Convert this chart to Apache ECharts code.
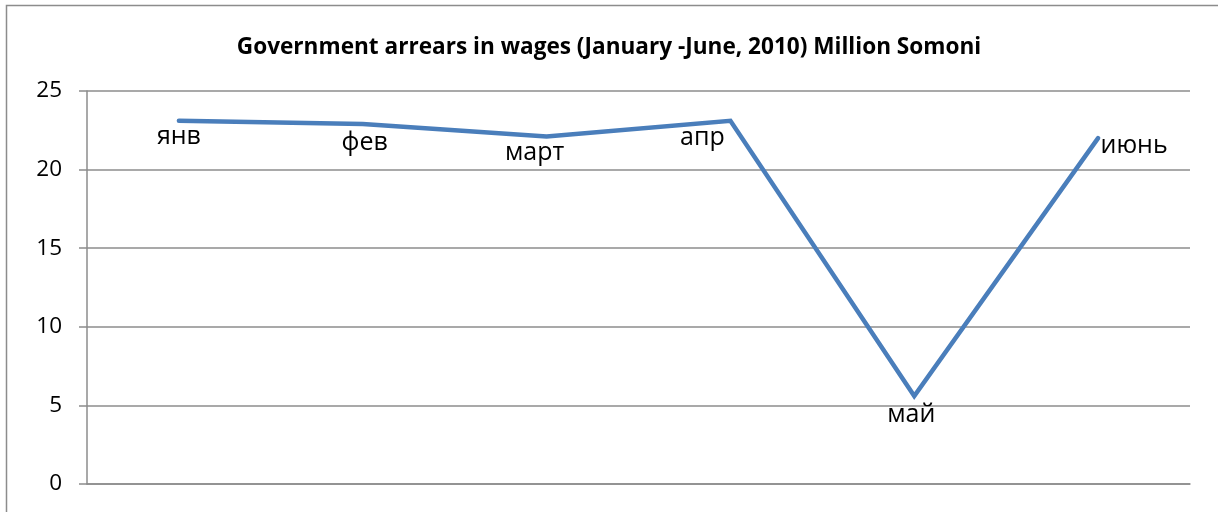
<!DOCTYPE html>
<html>
<head>
<meta charset="utf-8">
<script src="https://cdn.jsdelivr.net/npm/echarts@6/dist/echarts.min.js"></script>
<style>
html,body{margin:0;padding:0;background:#fff;}
#chart{width:1218px;height:512px;}
</style>
</head>
<body>
<div id="chart"></div>
<script>
const titleText = 'Government arrears in wages (January -June, 2010) Million Somoni';
const categories = ['янв', 'фев', 'март', 'апр', 'май', 'июнь'];
const values = [23.1, 22.9, 22.1, 23.1, 5.6, 22.0];
const yTicks = [0, 5, 10, 15, 20, 25];
const labelOffsets = [[0, 16], [2, 19], [-12, 16], [-28, 17], [-3, 19], [36, 8]];

const chart = echarts.init(document.getElementById('chart'));
const font = '"Open Sans", "Liberation Sans", sans-serif';
chart.setOption({
  animation: false,
  backgroundColor: '#fff',
  title: {
    text: titleText,
    left: 'center',
    top: 31,
    textStyle: { fontFamily: font, fontWeight: 'bold', fontSize: 22.6, color: '#000' }
  },
  graphic: [{
    type: 'rect',
    shape: { x: 6.5, y: 5.5, width: 1300, height: 600 },
    style: { fill: 'none', stroke: '#8c8c8c', lineWidth: 1.5 },
    silent: true
  }],
  grid: { left: 87, right: 28, top: 91, bottom: 28, containLabel: false },
  xAxis: {
    type: 'category',
    data: categories,
    boundaryGap: true,
    axisLine: { show: true, lineStyle: { color: '#8c8c8c', width: 1.5 } },
    axisTick: { show: false },
    axisLabel: { show: false },
    splitLine: { show: false }
  },
  yAxis: {
    type: 'value',
    min: yTicks[0],
    max: yTicks[yTicks.length - 1],
    interval: 5,
    axisLine: { show: true, lineStyle: { color: '#8c8c8c', width: 1.5 } },
    axisTick: { show: true, length: 8, lineStyle: { color: '#8c8c8c', width: 1.5 } },
    axisLabel: { fontFamily: font, fontSize: 22.5, color: '#000', margin: 25 },
    splitLine: { show: true, lineStyle: { color: '#8c8c8c', width: 1.5 } }
  },
  series: [{
    type: 'line',
    data: values.map((v, i) => ({
      value: v,
      label: { offset: labelOffsets[i] }
    })),
    symbol: 'circle',
    symbolSize: 0.01,
    showSymbol: true,
    itemStyle: { color: '#4a7ebb' },
    lineStyle: { color: '#4a7ebb', width: 4.5, cap: 'round', join: 'miter' },
    label: {
      show: true,
      position: 'inside',
      formatter: '{b}',
      fontFamily: font,
      fontSize: 25,
      color: '#000'
    }
  }]
});
</script>
</body>
</html>
